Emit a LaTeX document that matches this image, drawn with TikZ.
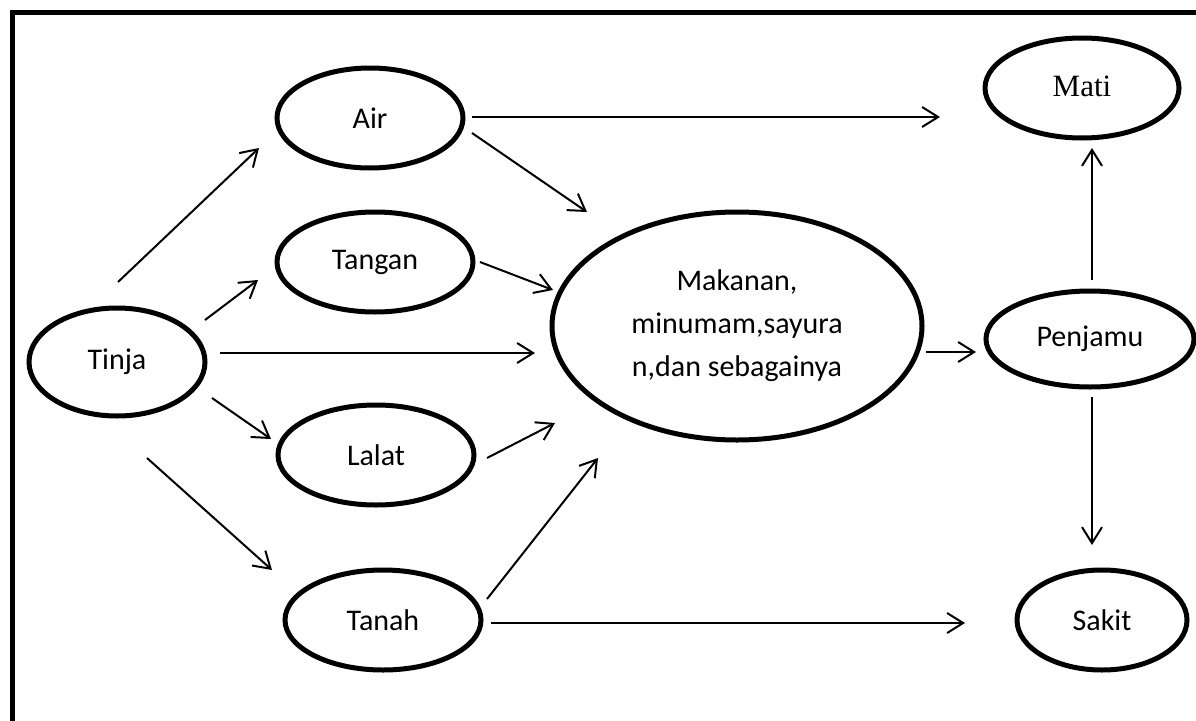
\documentclass[tikz,border=0pt]{standalone}
\usepackage{fontspec}
\setmainfont{Carlito}
\newfontfamily\serifname{Liberation Serif}
\usetikzlibrary{arrows.meta,calc,shapes.geometric}
\begin{document}
\begin{tikzpicture}[x=1pt,y=-1pt,
  oval/.style={draw,line width=5pt,ellipse,inner sep=0pt,font=\fontsize{30}{43}\selectfont,align=center},
  arr/.style={line width=2pt,-{Straight Barb[length=16pt,width=20pt,line width=2pt]}}]
\useasboundingbox (0,0) rectangle (1196,720);
\draw[line width=5pt] (12,12.5) rectangle (1240,760);
\node[oval,minimum width=176pt,minimum height=108pt] (tinja) at (117,362) {Tinja};
\node[oval,minimum width=186pt,minimum height=100pt] (air) at (370,118) {Air};
\node[oval,minimum width=196pt,minimum height=100pt] (tangan) at (375,262) {Tangan};
\node[oval,minimum width=196pt,minimum height=100pt] (lalat) at (376,455) {Lalat};
\node[oval,minimum width=196pt,minimum height=100pt] (tanah) at (383,620) {Tanah};
\node[oval,minimum width=370pt,minimum height=228pt] (mak) at (737,326) {Makanan,\\minumam,sayura\\n,dan sebagainya};
\node[oval,minimum width=194pt,minimum height=100pt,font=\serifname\fontsize{31}{36}\selectfont] (mati) at (1082,88) {\raisebox{4pt}{Mati}};
\node[oval,minimum width=208pt,minimum height=96pt] (penjamu) at (1090,339) {Penjamu};
\node[oval,minimum width=170pt,minimum height=100pt] (sakit) at (1102,620) {Sakit};
\draw[arr] ($(tinja.center)+(1,-80)$) -- ($(air.center)+(-111,30)$);
\draw[arr] ($(tinja.center)+(88,-42)$) -- ($(tangan.center)+(-117,18)$);
\draw[arr] ($(tinja.center)+(103,-9)$) -- ($(mak.center)+(-202,27)$);
\draw[arr] ($(tinja.center)+(95,36)$) -- ($(lalat.center)+(-105,-16)$);
\draw[arr] ($(tinja.center)+(30,96)$) -- ($(tanah.center)+(-111,-50)$);
\draw[arr] ($(air.center)+(102,-1)$) -- ($(mati.center)+(-142,29)$);
\draw[arr] ($(air.center)+(102,15)$) -- ($(mak.center)+(-150,-114)$);
\draw[arr] ($(tangan.center)+(105,0)$) -- ($(mak.center)+(-184,-36)$);
\draw[arr] ($(lalat.center)+(111,3)$) -- ($(mak.center)+(-182,97)$);
\draw[arr] ($(tanah.center)+(104,-21)$) -- ($(mak.center)+(-139,132)$);
\draw[arr] ($(tanah.center)+(108,3)$) -- ($(sakit.center)+(-137,3)$);
\draw[arr] ($(mak.center)+(189,26)$) -- ($(penjamu.center)+(-114,13)$);
\draw[arr] ($(penjamu.center)+(2,-59)$) -- ($(mati.center)+(10,60)$);
\draw[arr] ($(penjamu.center)+(2,58)$) -- ($(sakit.center)+(-10,-75)$);
\end{tikzpicture}
\end{document}
